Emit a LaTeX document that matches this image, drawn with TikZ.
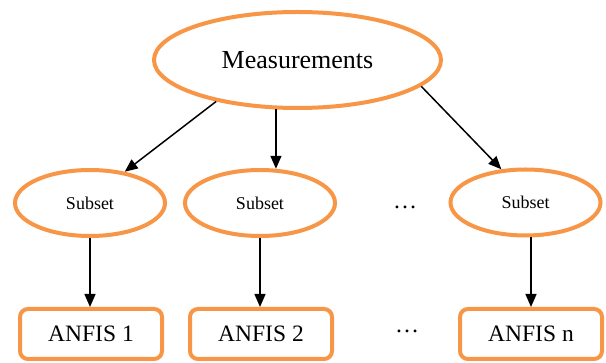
\documentclass[tikz,border=0pt]{standalone}
\usepackage{fontspec}
\setmainfont{Liberation Serif}
\usetikzlibrary{shapes.geometric,arrows.meta}
\definecolor{orng}{RGB}{247,150,70}
\begin{document}
\begin{tikzpicture}[x=1pt,y=-1pt,
 ell/.style={ellipse,draw=orng,line width=4pt,inner sep=0pt,fill=white},
 subell/.style={ell,minimum width=150pt,minimum height=66pt,font=\fontsize{18}{21}\selectfont},
 box/.style={rectangle,rounded corners=8pt,draw=orng,line width=4pt,minimum width=142pt,minimum height=50pt,inner sep=0pt,font=\fontsize{23.5}{27}\selectfont},
 dotsnode/.style={font=\fontsize{24}{27}\selectfont,inner sep=0pt},
 arr/.style={line width=1.5pt,-{Triangle[length=13pt,width=11pt]}}]
\useasboundingbox (0,0) rectangle (606,363);
\node[ell,minimum width=287pt,minimum height=96pt,font=\fontsize{26}{30}\selectfont] (m) at (297.5,60) {Measurements};
\node[subell] (s1) at (90,203) {Subset};
\node[subell] (s2) at (260,203) {Subset};
\node[subell] (s3) at (525.5,202.5) {Subset};
\node[dotsnode] (d1) at (405,207) {\ldots};
\node[box] (a1) at (91,334) {ANFIS 1};
\node[box] (a2) at (261,334) {ANFIS 2};
\node[box] (a3) at (531,334) {ANFIS n};
\node[dotsnode] (d2) at (407,331) {\ldots};
\draw[arr] (m.207) -- (s1.42);
\draw[arr] (m.246.5 -| s2.65) -- (s2.65);
\draw[arr] (m.348) -- (s3.126);
\draw[arr] (s1.south) -- (s1.south |- a1.north);
\draw[arr] (s2.south) -- (s2.south |- a2.north);
\draw[arr] (a3.north |- s3.south) -- (a3.north);
\end{tikzpicture}
\end{document}
